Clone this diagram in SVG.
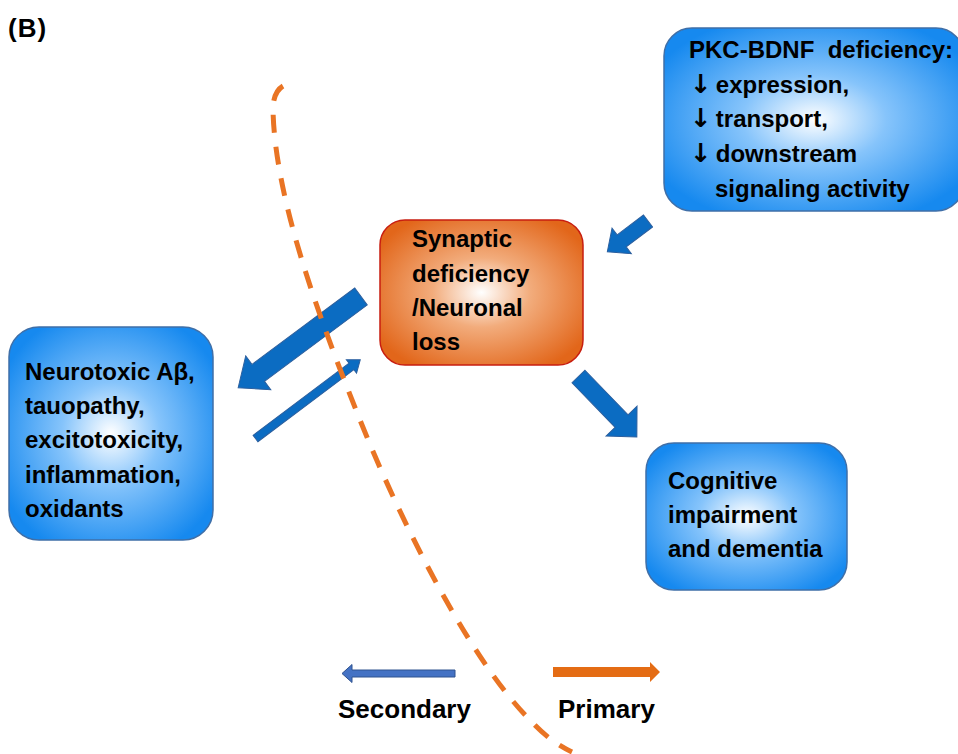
<svg xmlns="http://www.w3.org/2000/svg" width="958" height="754" viewBox="0 0 958 754">
<defs>
<radialGradient id="gBlue" cx="0.5" cy="0.5" r="0.6">
<stop offset="0" stop-color="#ffffff"/>
<stop offset="0.4" stop-color="#86c4fb"/>
<stop offset="1" stop-color="#1689ef"/>
</radialGradient>
<radialGradient id="gOrange" cx="0.5" cy="0.5" r="0.6">
<stop offset="0" stop-color="#ffffff"/>
<stop offset="0.4" stop-color="#f2ac7c"/>
<stop offset="1" stop-color="#e2661a"/>
</radialGradient>
<style>
.blue{fill:url(#gBlue);stroke:#3f6fa8;stroke-width:1.5}
.orange{fill:url(#gOrange);stroke:#c81e10;stroke-width:1.5}
.t{font-family:"Liberation Sans",Arial,sans-serif;font-weight:bold;font-size:24px;fill:#000}
.ar{font-family:"DejaVu Sans",sans-serif;font-weight:bold;font-size:26px}
.lg{font-family:"Liberation Sans",Arial,sans-serif;font-weight:bold;font-size:26px;fill:#000}
.arr{fill:#0b6cc2;stroke:#2c5f9e;stroke-width:1}
.dash{fill:none;stroke:#e97424;stroke-width:5;stroke-dasharray:18 14}
</style>
</defs>
<rect width="958" height="754" fill="#ffffff"/>
<text class="lg" x="8" y="37" font-size="29" letter-spacing="1">(B)</text>

<g id="node-pkc">
<rect class="blue" x="664" y="28" width="300" height="183" rx="28"/>
<text class="t" x="689" y="58" xml:space="preserve">PKC-BDNF  deficiency:</text>
<text class="t" x="690" y="93"><tspan class="ar">↓</tspan><tspan dx="4">expression,</tspan></text>
<text class="t" x="690" y="127"><tspan class="ar">↓</tspan><tspan dx="4">transport,</tspan></text>
<text class="t" x="690" y="162"><tspan class="ar">↓</tspan><tspan dx="4">downstream</tspan></text>
<text class="t" x="715" y="197">signaling activity</text>
</g>

<g id="node-synaptic">
<rect class="orange" x="380" y="220" width="203" height="145" rx="25"/>
<text class="t" x="412" y="247">Synaptic</text>
<text class="t" x="412" y="282">deficiency</text>
<text class="t" x="412" y="316">/Neuronal</text>
<text class="t" x="412" y="350">loss</text>
</g>

<g id="node-neurotoxic">
<rect class="blue" x="9" y="327" width="204" height="213" rx="30"/>
<text class="t" x="25" y="380">Neurotoxic Aβ,</text>
<text class="t" x="25" y="414">tauopathy,</text>
<text class="t" x="25" y="448">excitotoxicity,</text>
<text class="t" x="25" y="483">inflammation,</text>
<text class="t" x="25" y="517">oxidants</text>
</g>

<g id="node-cognitive">
<rect class="blue" x="646" y="443" width="201" height="147" rx="28"/>
<text class="t" x="668" y="489">Cognitive</text>
<text class="t" x="668" y="523">impairment</text>
<text class="t" x="668" y="557">and dementia</text>
</g>

<g id="connectors">
<path class="arr" transform="translate(648,221) rotate(142.9)" d="M0,-7.5 L33,-7.5 L33,-16 L51,0 L33,16 L33,7.5 L0,7.5 Z"/>
<path class="arr" transform="translate(361,296.5) rotate(143.4)" d="M0,-10.5 L128,-10.5 L128,-21 L153,0 L128,21 L128,10.5 L0,10.5 Z"/>
<path class="arr" transform="translate(255.5,438.5) rotate(-36.9)" d="M0,-4 L120,-4 L120,-8.5 L131,0 L120,8.5 L120,4 L0,4 Z"/>
<path class="arr" transform="translate(578.5,376.5) rotate(46)" d="M0,-9 L62,-9 L62,-21.5 L84,0 L62,21.5 L62,9 L0,9 Z"/>
</g>

<g id="divider">
<path class="dash" d="M283,86 Q273,92 273,110 C275,200 320,320 360,420 C400,520 470,660 530,720 Q550,742 572,752"/>
</g>

<g id="legend">
<path transform="translate(455,673.5) rotate(180)" d="M0,-3.5 L103,-3.5 L103,-9 L113,0 L103,9 L103,3.5 L0,3.5 Z" fill="#4472c4" stroke="#2f528f" stroke-width="1"/>
<path transform="translate(553,672)" d="M0,-5 L97,-5 L97,-10 L107,0 L97,10 L97,5 L0,5 Z" fill="#e46c14"/>
<text class="lg" x="338" y="718">Secondary</text>
<text class="lg" x="558" y="718">Primary</text>
</g>
</svg>
